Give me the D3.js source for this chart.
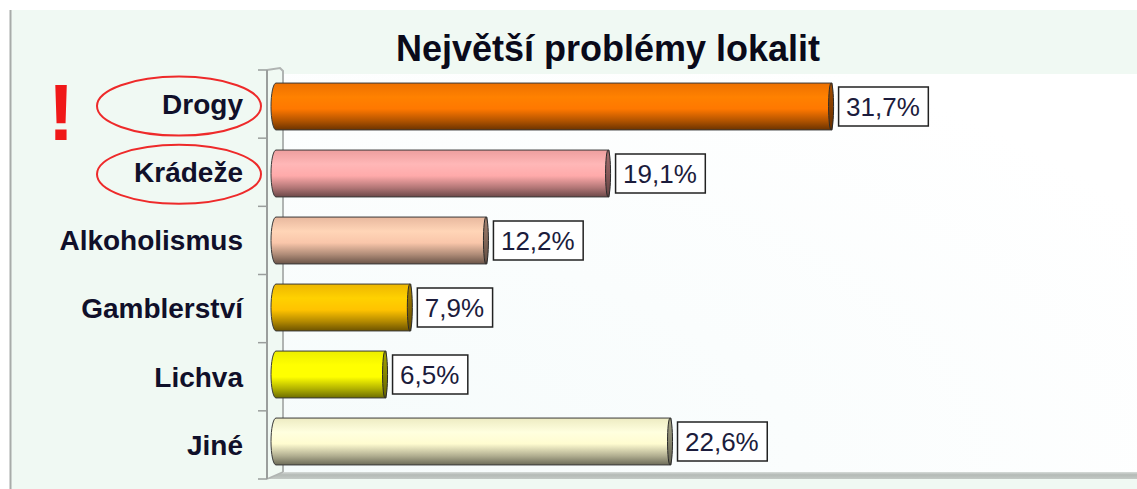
<!DOCTYPE html>
<html>
<head>
<meta charset="utf-8">
<script src="https://cdn.jsdelivr.net/npm/d3@7"></script>
<style>
  html, body { margin: 0; padding: 0; background: #ffffff; }
  svg { display: block; }
</style>
</head>
<body>
<svg id="chart" width="1137" height="489"></svg>
<script>
// ---- data ----
const title = "Největší problémy lokalit";
const categories = ["Drogy", "Krádeže", "Alkoholismus", "Gamblerství", "Lichva", "Jiné"];
const values = [31.7, 19.1, 12.2, 7.9, 6.5, 22.6];
const valueLabels = ["31,7%", "19,1%", "12,2%", "7,9%", "6,5%", "22,6%"];
const highlighted = ["Drogy", "Krádeže"];
// ---- style ----
const barColors = ["#ff7800", "#ffaaaa", "#f9c6aa", "#ffc300", "#ffff00", "#fffcd0"];

const svg = d3.select("#chart");
const W = 1137, H = 489;
const defs = svg.append("defs");

// panel background
svg.append("rect").attr("x", 10).attr("y", 10).attr("width", W - 10).attr("height", H - 10).attr("fill", "#f0f9f3");
svg.append("line").attr("x1", 10.5).attr("x2", 10.5).attr("y1", 10).attr("y2", H).attr("stroke", "#a8aca9").attr("stroke-width", 2);

// scales
const x = d3.scaleLinear().domain([0, 50]).range([271, 1156]);
const yFront = d3.scaleBand().domain(categories).range([70, 479]);
const yBack = d3.scaleBand().domain(categories).range([73, 475]).paddingInner(0.3).paddingOuter(0.15);

const wallX = 283, frontX = 267, topBack = 74, floorBack = 472;

// plot background
const bgGrad = defs.append("radialGradient").attr("id", "bgGrad").attr("cx", "0%").attr("cy", "100%").attr("r", "120%");
bgGrad.append("stop").attr("offset", "0%").attr("stop-color", "#f5fbfb");
bgGrad.append("stop").attr("offset", "100%").attr("stop-color", "#ffffff");
svg.append("rect").attr("x", wallX).attr("y", topBack).attr("width", W - wallX).attr("height", floorBack - topBack).attr("fill", "url(#bgGrad)");

// floor
const floorGrad = defs.append("linearGradient").attr("id", "floorGrad").attr("x1", 0).attr("x2", 0).attr("y1", 0).attr("y2", 1);
floorGrad.append("stop").attr("offset", "0%").attr("stop-color", "#d6dbd8");
floorGrad.append("stop").attr("offset", "40%").attr("stop-color", "#b4bab6");
floorGrad.append("stop").attr("offset", "100%").attr("stop-color", "#c3c9c5");
svg.append("path")
  .attr("d", `M${frontX},479 L${wallX},${floorBack} L${W},${floorBack} L${W},479 Z`)
  .attr("fill", "url(#floorGrad)");

// back wall line
svg.append("path")
  .attr("d", `M${frontX},70 L${wallX - 3},68 L${wallX},71 L${wallX},${floorBack}`)
  .attr("fill", "none").attr("stroke", "#b0b4b2").attr("stroke-width", 2);
svg.append("line").attr("x1", frontX).attr("y1", 479).attr("x2", wallX).attr("y2", floorBack)
  .attr("stroke", "#b0b4b2").attr("stroke-width", 1.5);

// front axis line + ticks at band boundaries
svg.append("line").attr("x1", frontX).attr("x2", frontX).attr("y1", 70).attr("y2", 479)
  .attr("stroke", "#9a9e9c").attr("stroke-width", 2);
const boundaries = categories.map(c => yFront(c)).concat([yFront.range()[1]]);
svg.selectAll(".tick").data(boundaries).enter().append("line")
  .attr("x1", 258).attr("x2", frontX).attr("y1", d => d).attr("y2", d => d)
  .attr("stroke", "#9a9e9c").attr("stroke-width", 1.5);

// bar gradients
barColors.forEach((c, i) => {
  const base = d3.color(c);
  const g = defs.append("linearGradient").attr("id", "bar" + i).attr("x1", 0).attr("x2", 0).attr("y1", 0).attr("y2", 1);
  const stops = [
    [0, d3.color(c).darker(0.2)],
    [0.3, d3.color(c).brighter(0.2)],
    [0.55, base],
    [0.8, d3.color(c).darker(1.0)],
    [1, d3.color(c).darker(2.4)]
  ];
  stops.forEach(s => g.append("stop").attr("offset", s[0]).attr("stop-color", s[1].formatHex()));
  const e = defs.append("linearGradient").attr("id", "end" + i).attr("x1", 0).attr("x2", 0).attr("y1", 0).attr("y2", 1);
  e.append("stop").attr("offset", 0).attr("stop-color", d3.color(c).darker(1.2).formatHex());
  e.append("stop").attr("offset", 1).attr("stop-color", d3.color(c).darker(2.6).formatHex());
});

// bars
const bh = yBack.bandwidth();
const rx = 5;
const bars = svg.selectAll(".bar").data(categories).enter().append("g").attr("class", "bar");
bars.append("path")
  .attr("d", (c, i) => {
    const y0 = yBack(c), x0 = x(0), x1 = x(values[i]);
    return `M${x0 + rx},${y0} L${x1},${y0} L${x1},${y0 + bh} L${x0 + rx},${y0 + bh} A${rx},${bh / 2} 0 0 1 ${x0 + rx},${y0} Z`;
  })
  .attr("fill", (c, i) => `url(#bar${i})`)
  .attr("stroke", "#3a3a3a").attr("stroke-width", 1);
bars.append("ellipse")
  .attr("cx", (c, i) => x(values[i]) - 1)
  .attr("cy", c => yBack(c) + bh / 2)
  .attr("rx", 2.5).attr("ry", bh / 2)
  .attr("fill", (c, i) => `url(#end${i})`)
  .attr("stroke", "#2a2a2a").attr("stroke-width", 1);

// value labels with boxes
const lbl = svg.selectAll(".vl").data(categories).enter().append("g").attr("class", "vl");
lbl.each(function (c, i) {
  const g = d3.select(this);
  const bx = x(values[i]) + 6;
  const cy = yBack(c) + bh / 2;
  const t = g.append("text")
    .attr("x", bx + 8).attr("y", cy).attr("dy", "0.36em")
    .attr("font-family", "'Liberation Sans', Arial, sans-serif")
    .attr("font-size", 26).attr("fill", "#1c1c3c")
    .text(valueLabels[i]);
  const w = t.node().getComputedTextLength();
  g.insert("rect", "text")
    .attr("x", bx + 0.5).attr("y", cy - 19.5)
    .attr("width", w + 16).attr("height", 39)
    .attr("fill", "#ffffff").attr("stroke", "#222").attr("stroke-width", 1.5);
});

// category labels
const catText = svg.selectAll(".cat").data(categories).enter().append("text")
  .attr("class", "cat")
  .attr("x", 243).attr("y", c => yFront(c) + yFront.bandwidth() / 2).attr("dy", "0.35em")
  .attr("text-anchor", "end")
  .attr("font-family", "'Liberation Sans', Arial, sans-serif")
  .attr("font-weight", "bold").attr("font-size", 28).attr("fill", "#10102a")
  .text(c => c);

// red ellipses around highlighted labels
catText.filter(c => highlighted.includes(c)).each(function (c) {
  const cy = yFront(c) + yFront.bandwidth() / 2 + 2;
  svg.append("ellipse")
    .attr("cx", 179).attr("cy", cy).attr("rx", 82).attr("ry", 29.5)
    .attr("fill", "none").attr("stroke", "#ee2a2a").attr("stroke-width", 2);
});

// exclamation mark
svg.append("text")
  .attr("x", 61).attr("y", 140).attr("text-anchor", "middle")
  .attr("font-family", "'Liberation Sans', Arial, sans-serif")
  .attr("font-weight", "bold").attr("font-size", 80).attr("fill", "#f01818")
  .text("!");

// title
svg.append("text")
  .attr("x", 608).attr("y", 61).attr("text-anchor", "middle")
  .attr("font-family", "'Liberation Sans', Arial, sans-serif")
  .attr("font-weight", "bold").attr("font-size", 36).attr("fill", "#0a0a1a")
  .text(title);
</script>
</body>
</html>
